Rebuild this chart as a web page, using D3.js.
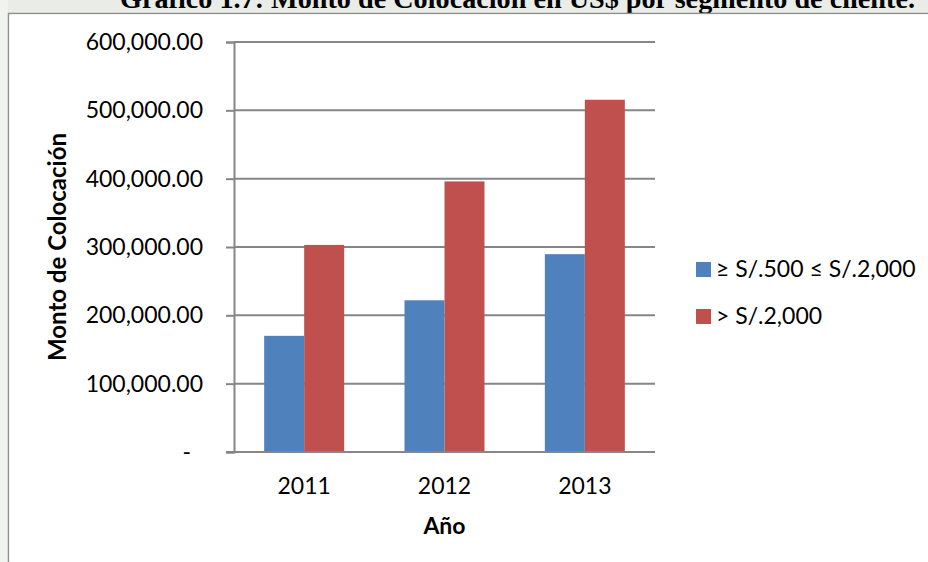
<!DOCTYPE html>
<html>
<head>
<meta charset="utf-8">
<script src="https://cdn.jsdelivr.net/npm/d3@7"></script>
<style>
  html, body { margin: 0; padding: 0; background: #ffffff; }
  svg { display: block; }
</style>
</head>
<body>
<script>
// Loan amounts by client segment
const years = ["2011", "2012", "2013"];
const seriesNames = ["\u2265 S/.500 \u2264 S/.2,000", "> S/.2,000"];
const smallSegment = [170000, 222000, 289500];
const largeSegment = [303000, 396000, 515500];
const yTicks = [0, 100000, 200000, 300000, 400000, 500000, 600000];
const colors = ["#4F81BD", "#C0504D"];

const title = "Gr\u00e1fico 1.7: Monto de Colocaci\u00f3n en US$ por segmento de cliente.";
const yTitle = "Monto de Colocaci\u00f3n";
const xTitle = "A\u00f1o";

const W = 928, H = 562;
const svg = d3.select("body").append("svg").attr("width", W).attr("height", H);

// faint page background behind the frame
svg.append("rect").attr("x", 0).attr("y", 0).attr("width", W).attr("height", 13).attr("fill", "#e9ece7");
svg.append("rect").attr("x", 0).attr("y", 0).attr("width", 8).attr("height", H).attr("fill", "#f1f3ef");

// document caption, running off the top of the page
svg.append("text")
  .attr("x", 120).attr("y", 8)
  .attr("textLength", 795).attr("lengthAdjust", "spacingAndGlyphs")
  .attr("font-family", "'Liberation Serif', 'Times New Roman', serif")
  .attr("font-weight", "bold").attr("font-size", 27.5)
  .attr("fill", "#000")
  .text(title);

// chart frame
svg.append("path")
  .attr("d", `M8.5,${H} V13.5 H${W}`)
  .attr("fill", "none").attr("stroke", "#8f8f8f").attr("stroke-width", 1.5);
svg.append("rect").attr("x", 9.5).attr("y", 14.5).attr("width", W - 10).attr("height", H - 15).attr("fill", "#fff");

const plot = { left: 234, right: 655, top: 42, bottom: 452 };

const x0 = d3.scaleBand().domain(years)
  .range([plot.left, plot.right]).paddingInner(0.43).paddingOuter(0.215);
const x1 = d3.scaleBand().domain([0, 1]).range([0, x0.bandwidth()]);
const y = d3.scaleLinear().domain([0, 600000]).range([plot.bottom, plot.top]);

const fmt = d3.format(",.2f");
const font = "Lato, 'Open Sans', sans-serif";

// horizontal gridlines
svg.append("g").selectAll("line").data(yTicks.filter(d => d > 0)).join("line")
  .attr("x1", plot.left).attr("x2", plot.right)
  .attr("y1", d => y(d)).attr("y2", d => y(d))
  .attr("stroke", "#868686").attr("stroke-width", 2);

// bars
const values = [smallSegment, largeSegment];
const groups = svg.append("g").selectAll("g").data(years).join("g")
  .attr("transform", d => `translate(${x0(d)},0)`);
groups.selectAll("rect")
  .data((d, i) => values.map((v, s) => ({ s, v: v[i] })))
  .join("rect")
  .attr("x", d => x1(d.s))
  .attr("width", x1.bandwidth())
  .attr("y", d => y(d.v))
  .attr("height", d => y(0) - y(d.v))
  .attr("fill", d => colors[d.s]);

// y axis
const yAxis = d3.axisLeft(y).tickValues(yTicks).tickSize(8).tickPadding(23)
  .tickFormat(d => d === 0 ? "-" : fmt(d));
const gy = svg.append("g").attr("transform", `translate(${plot.left},0)`).call(yAxis);
gy.select(".domain").attr("stroke", "#868686").attr("stroke-width", 2);
gy.selectAll(".tick line").attr("stroke", "#868686").attr("stroke-width", 2);
gy.selectAll(".tick text")
  .attr("font-family", font).attr("font-size", 23).attr("fill", "#000")
  .attr("dx", d => d === 0 ? -12 : 0);

// x axis
const xAxis = d3.axisBottom(x0).tickSize(0).tickPadding(26);
const gx = svg.append("g").attr("transform", `translate(0,${plot.bottom})`).call(xAxis);
gx.select(".domain").attr("stroke", "#868686").attr("stroke-width", 2)
  .attr("d", `M${plot.left - 8},0H${plot.right}`);
gx.selectAll(".tick")
  .attr("transform", d => `translate(${x0(d) + x0.bandwidth() / 2},0)`);
gx.selectAll(".tick text")
  .attr("font-family", font).attr("font-size", 23).attr("fill", "#000");

// axis titles
svg.append("text")
  .attr("transform", `translate(66,${(plot.top + plot.bottom) / 2}) rotate(-90)`)
  .attr("text-anchor", "middle")
  .attr("font-family", font).attr("font-weight", "bold").attr("font-size", 24)
  .text(yTitle);
svg.append("text")
  .attr("x", (plot.left + plot.right) / 2).attr("y", 534)
  .attr("text-anchor", "middle")
  .attr("font-family", font).attr("font-weight", "bold").attr("font-size", 23)
  .text(xTitle);

// legend
const legend = svg.append("g").selectAll("g").data(seriesNames).join("g")
  .attr("transform", (d, i) => `translate(696,${262 + i * 47})`);
legend.append("rect").attr("width", 15).attr("height", 15).attr("fill", (d, i) => colors[i]);
legend.append("text")
  .attr("x", 20).attr("y", 14.5)
  .attr("font-family", font).attr("font-size", 23).attr("fill", "#000")
  .text(d => d);
</script>
</body>
</html>
